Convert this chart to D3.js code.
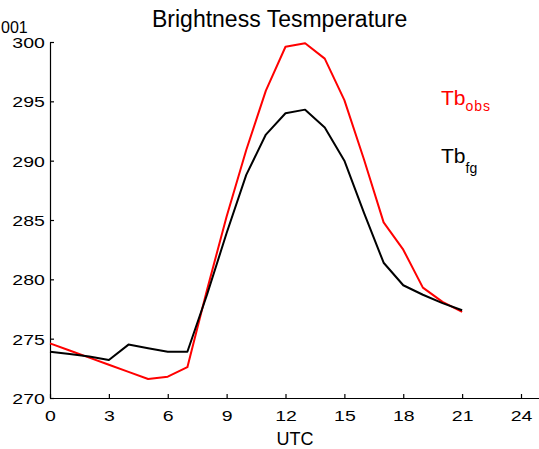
<!DOCTYPE html>
<html><head><meta charset="utf-8">
<script src="https://cdn.jsdelivr.net/npm/d3@7"></script>
<style>
body{margin:0;background:#fff;}
svg{display:block;font-family:"Liberation Sans",Arial,Helvetica,sans-serif;}
</style></head>
<body>
<svg id="c" width="539" height="449"></svg>
<script>
const hours = [0,1,2,3,4,5,6,7,8,9,10,11,12,13,14,15,16,17,18,19,20,21];
const tbObs = [274.6,274.0,273.4,272.8,272.2,271.6,271.8,272.6,279.1,285.3,290.9,295.9,299.6,299.9,298.6,295.1,290.1,284.8,282.5,279.3,278.1,277.25];
const tbFg  = [273.9,273.7,273.5,273.2,274.5,274.2,273.9,273.9,278.7,283.9,288.8,292.2,294.0,294.3,292.8,290.0,285.6,281.4,279.5,278.7,278.0,277.4];
const xTicks = [0,3,6,9,12,15,18,21,24];
const yTicks = [270,275,280,285,290,295,300];
const title = "Brightness Tesmperature";
const xLabel = "UTC";

const svg = d3.select("#c");
const x = d3.scaleLinear().domain([0,25]).range([50, 50+25*19.625]);
const y = d3.scaleLinear().domain([270,300]).range([398,42]);

// axes
const gx = svg.append("g").attr("transform","translate(0,398)")
  .call(d3.axisBottom(x).tickValues(xTicks).tickSize(-4).tickSizeOuter(0).tickFormat(d3.format("d")));
gx.select(".domain").attr("stroke","#000").attr("stroke-width",1.2);
gx.selectAll(".tick line").attr("stroke","#000").attr("stroke-width",1.2);
gx.selectAll(".tick text").attr("y",23).attr("dy",0).attr("fill","#000")
  .style("font-size","15px").attr("transform","scale(1.3,1)");

const gy = svg.append("g").attr("transform","translate(50,0)")
  .call(d3.axisLeft(y).tickValues(yTicks).tickSize(-4).tickSizeOuter(0).tickFormat(d3.format("d")));
gy.select(".domain").attr("stroke","#000").attr("stroke-width",1.2);
gy.selectAll(".tick line").attr("stroke","#000").attr("stroke-width",1.2);
gy.selectAll(".tick text").attr("x",-4).attr("dy","0.36em").attr("fill","#000")
  .style("font-size","15px").attr("transform","scale(1.3,1)");

// lines
const line = d3.line().x((d,i)=>x(hours[i])).y(d=>y(d));
svg.append("path").datum(tbObs).attr("d",line).attr("fill","none")
  .attr("stroke","#ff0000").attr("stroke-width",2).attr("stroke-linejoin","round");
svg.append("path").datum(tbFg).attr("d",line).attr("fill","none")
  .attr("stroke","#000").attr("stroke-width",2).attr("stroke-linejoin","round");

// title & labels
svg.append("text").attr("x",152).attr("y",27).style("font-size","23px").attr("fill","#000").text(title);
svg.append("text").attr("x",295).attr("y",445).attr("text-anchor","middle").style("font-size","18px").attr("fill","#000").text(xLabel);
svg.append("text").attr("x",1).attr("y",33).style("font-size","16px").attr("fill","#000").text("001");

// legend
const l1 = svg.append("text").attr("x",441).attr("y",105).attr("fill","#ff0000").style("font-size","21px");
l1.append("tspan").text("Tb");
l1.append("tspan").attr("dy",6).style("font-size","14px").style("letter-spacing","1px").text("obs");
const l2 = svg.append("text").attr("x",441).attr("y",163).attr("fill","#000").style("font-size","21px");
l2.append("tspan").text("Tb");
l2.append("tspan").attr("dy",10).style("font-size","14px").text("fg");
</script>
</body></html>
